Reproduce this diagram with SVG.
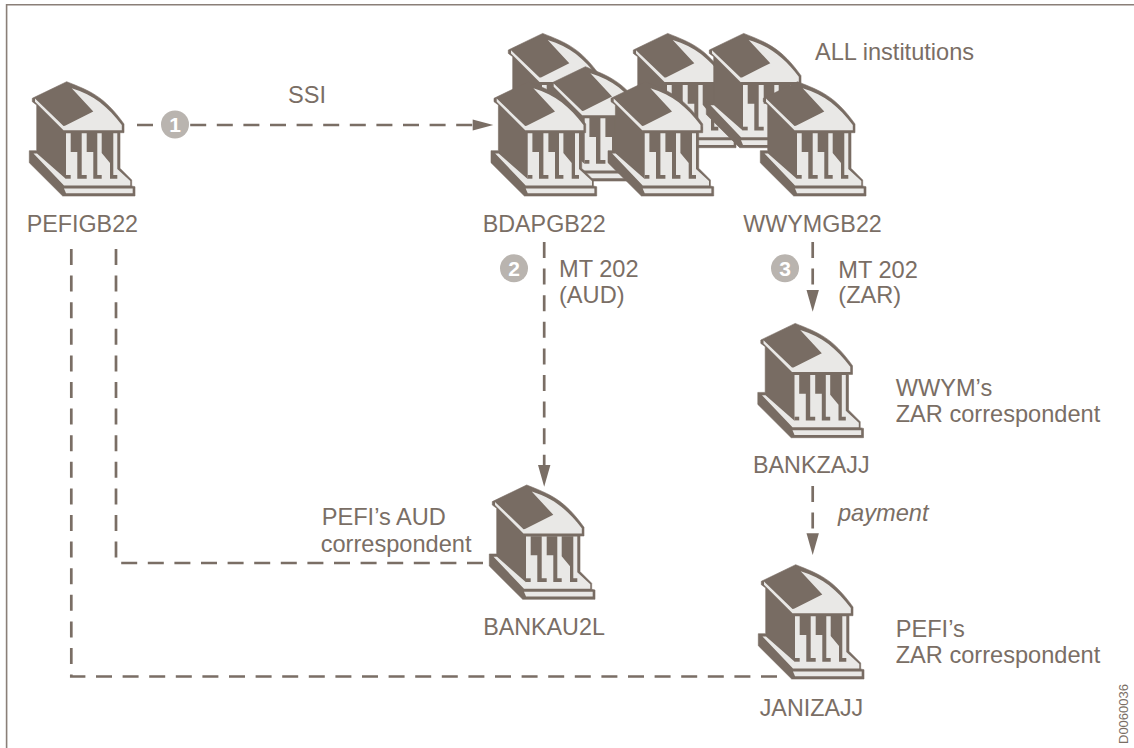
<svg xmlns="http://www.w3.org/2000/svg" width="1134" height="748" viewBox="0 0 1134 748">
<style>
text{font-family:"Liberation Sans",Arial,sans-serif;font-size:23.6px;fill:#7a6e65}
.u{font-size:23.3px}
.c{text-anchor:middle}
.it{font-style:italic}
.id{font-size:13px}
.frame{fill:none;stroke:#8a7f78;stroke-width:1.6}
.dash{fill:none;stroke:#7a6e65;stroke-width:2.7;stroke-dasharray:16 10.6}
.head{fill:#7a6e65}
.badge{fill:#b9b4af}
.num{fill:#fff;font-weight:bold;font-size:21px;text-anchor:middle}
.dk{fill:#786c63}
.lt{fill:#e9e8e6}
.sil{fill:#786c63;stroke:#786c63;stroke-width:.6;stroke-linejoin:round}
</style>
<defs>
<g id="bank">
<path class="sil" d="M66.7,81.7C90,91 104,96 124,124V132.7H120V168.3L131.7,180V186L135,186.7V196H62.7L29.3,162.7V150.7H36.7V105L32.3,101.7V98.3Z"/>
<path class="lt" d="M35,98.6L63.5,125.9L65,125.7L93.3,111.5L71.7,88.3C94,95 108,107 121.8,125V130.3H63.5L35,101.8Z"/>
<path class="lt" d="M33.5,153.5H37L66,179V133.3H117.3V169L130.3,181V185.5H64Z"/>
<path class="lt" d="M64,188.5H132.7V193.3H66Z"/>
<path class="dk" d="M70.7,133H81.7V175H86.7V178.7H77.3V152H70.7Z"/>
<path class="dk" d="M86.7,133H97.3V175H101.7V178.7H93.3V152H86.7Z"/>
<path class="dk" d="M101.7,133H113.3V175H117.3V178.7H110V163L101.7,153Z"/>
<path class="dk" d="M66,175H70.7V178.7H66Z"/>
</g>
</defs>
<path class="frame" d="M1134,4.7H6.6V748"/>
<g id="connectors">
<path class="dash" d="M137,125H476"/>
<path class="head" d="M472.7,119.5L493.3,125L472.7,130.5Z"/>
<path class="dash" d="M544.2,242V468"/>
<path class="head" d="M538,465L544.2,486.7L550.4,465Z"/>
<path class="dash" d="M812.7,242V293"/>
<path class="head" d="M806.5,290L812.7,311.7L818.9,290Z"/>
<path class="dash" d="M812.7,486V536"/>
<path class="head" d="M806.5,533.3L812.7,555L818.9,533.3Z"/>
<path class="dash" d="M116,249V563H483"/>
<path class="dash" d="M71.3,249V676.5H778"/>
</g>
<g id="badge1"><circle class="badge" cx="175" cy="124.5" r="14"/><text class="num" x="175" y="132">1</text></g>
<g id="badge2"><circle class="badge" cx="514" cy="268.3" r="14"/><text class="num" x="514" y="275.8">2</text></g>
<g id="badge3"><circle class="badge" cx="785" cy="268.3" r="14"/><text class="num" x="785" y="275.8">3</text></g>
<g id="inst-back-1"><use href="#bank" transform="translate(476,-48.3)"/></g>
<g id="inst-back-2"><use href="#bank" transform="translate(601,-48.3)"/></g>
<g id="inst-back-3"><use href="#bank" transform="translate(677,-48.3)"/></g>
<g id="inst-back-4"><use href="#bank" transform="translate(518.7,-15)"/></g>
<g id="inst-front"><use href="#bank" transform="translate(578.7,0)"/></g>
<g id="BDAPGB22"><use href="#bank" transform="translate(461.7,0)"/><text class="u" x="482.7" y="231.7">BDAPGB22</text></g>
<g id="WWYMGB22"><use href="#bank" transform="translate(731,0)"/><text class="u" x="743.3" y="231.7">WWYMGB22</text></g>
<g id="PEFIGB22"><use href="#bank"/><text class="u" x="26.7" y="231.7">PEFIGB22</text></g>
<g id="BANKAU2L"><use href="#bank" transform="translate(460,403.3)"/><text class="u c" x="544" y="635">BANKAU2L</text></g>
<g id="BANKZAJJ"><use href="#bank" transform="translate(728.5,241.7)"/><text class="u c" x="811.3" y="473.3">BANKZAJJ</text></g>
<g id="JANIZAJJ"><use href="#bank" transform="translate(729,483)"/><text class="u c" x="811.5" y="716">JANIZAJJ</text></g>
<g id="labels">
<text class="c" x="307" y="103">SSI</text>
<text x="815" y="59.5">ALL institutions</text>
<text x="559" y="276.7">MT 202</text>
<text x="559" y="303">(AUD)</text>
<text x="838.3" y="277.7">MT 202</text>
<text x="838.3" y="303.3">(ZAR)</text>
<text class="it" x="838" y="521">payment</text>
<text x="895.7" y="395.7">WWYM’s</text>
<text x="895.7" y="421.7">ZAR correspondent</text>
<text x="895.7" y="636.7">PEFI’s</text>
<text x="895.7" y="663.3">ZAR correspondent</text>
<text x="321.7" y="525">PEFI’s AUD</text>
<text x="320.7" y="551.7">correspondent</text>
<text class="id" transform="translate(1128,744) rotate(-90)">D0060036</text>
</g>
</svg>
